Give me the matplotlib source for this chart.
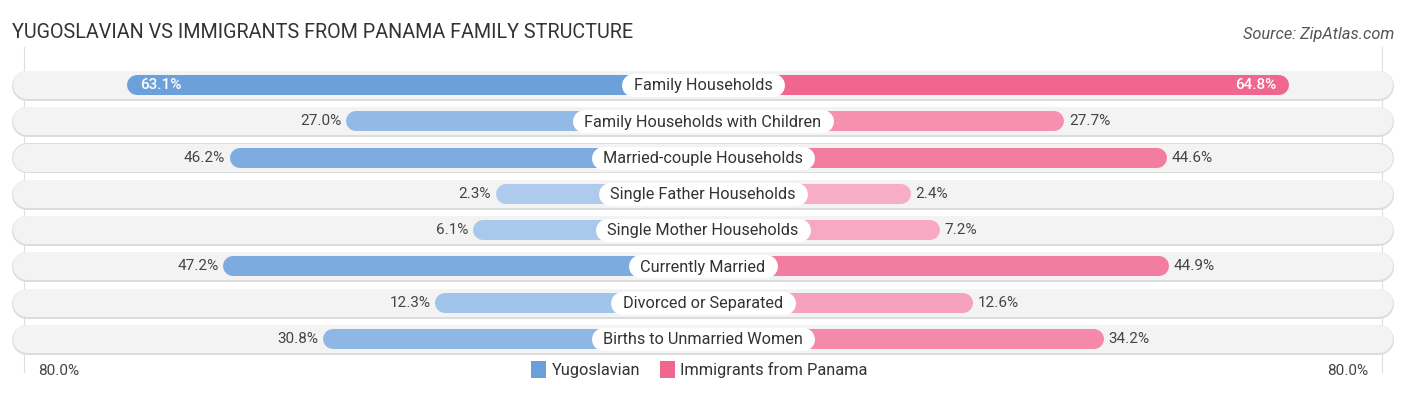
import numpy as np
import matplotlib
matplotlib.use('Agg')
import matplotlib.pyplot as plt
from matplotlib.colors import to_rgb

plt.rcParams['font.family'] = ['Roboto', 'DejaVu Sans']

# data
categories = ['Family Households', 'Family Households with Children', 'Married-couple Households',
              'Single Father Households', 'Single Mother Households', 'Currently Married',
              'Divorced or Separated', 'Births to Unmarried Women']
yugoslavian = [63.1, 27.0, 46.2, 2.3, 6.1, 47.2, 12.3, 30.8]
panama = [64.8, 27.7, 44.6, 2.4, 7.2, 44.9, 12.6, 34.2]
axis_max = 80.0

# layout (pixel based)
W, H = 1406, 395
cx = 703          # centre of the chart in px
ppu = 6.07        # px per percent
base = 31.8       # extra length every bar gets (room for the label)
row0, drow = 85, 36.3

fig = plt.figure(figsize=(W / 100, H / 100), dpi=100)
ax = fig.add_axes([0, 0, 1, 1])
ax.set_xlim(-cx / ppu, (W - cx) / ppu)
ax.set_ylim((H - row0) / drow, -row0 / drow)
ax.axis('off')

pt = 72 / 100  # points per pixel


def px2u(p):
    return p / ppu


def shade(c_light, c_dark, t):
    a, b = np.array(to_rgb(c_light)), np.array(to_rgb(c_dark))
    return tuple(a + (b - a) * t)


vmax = max(max(yugoslavian), max(panama))

# faint gridlines at +-80
for s in (-1, 1):
    ax.plot([s * (base + axis_max)] * 2, [-1.05, 7.9], color='#dedede', lw=0.8, zorder=0)

fig.canvas.draw()
renderer = fig.canvas.get_renderer()

for i, cat in enumerate(categories):
    # background pill
    r_bg = px2u(14.5)
    xl, xr = -(base + axis_max + 2.0), base + axis_max + 2.0
    ax.plot([xl + r_bg, xr - r_bg], [i + 0.02, i + 0.02], color='#dcdcdc', lw=30 * pt,
            solid_capstyle='round', zorder=1)
    ax.plot([xl + r_bg, xr - r_bg], [i, i], color='#f3f3f3', lw=28 * pt,
            solid_capstyle='round', zorder=1)

    r = px2u(10)
    yv, pv = yugoslavian[i], panama[i]
    cy = shade('#b0cdee', '#6a9fdb', yv / vmax)
    cp = shade('#f8b0c8', '#f0668f', pv / vmax)
    ax.plot([-(base + yv) + r, 0], [i, i], color=cy, lw=20 * pt, solid_capstyle='round', zorder=2)
    ax.plot([0, base + pv - r], [i, i], color=cp, lw=20 * pt, solid_capstyle='round', zorder=2)

    # values
    if yv > 55:
        ax.text(-(base + yv) + px2u(13), i, f'{yv:.1f}%', ha='left', va='center',
                fontsize=11, color='white', fontweight='medium', zorder=4)
    else:
        ax.text(-(base + yv) - px2u(5), i, f'{yv:.1f}%', ha='right', va='center',
                fontsize=11, color='#444444', zorder=4)
    if pv > 55:
        ax.text(base + pv - px2u(13), i, f'{pv:.1f}%', ha='right', va='center',
                fontsize=11, color='white', fontweight='medium', zorder=4)
    else:
        ax.text(base + pv + px2u(5), i, f'{pv:.1f}%', ha='left', va='center',
                fontsize=11, color='#444444', zorder=4)

    # category label on a white pill
    t = ax.text(0, i + 0.02, cat, ha='center', va='center', fontsize=11.7, color='#333333', zorder=5)
    bb = t.get_window_extent(renderer)
    hw = px2u(bb.width / 2 + 12 - 11.5)
    ax.plot([-hw, hw], [i, i], color='white', lw=23 * pt, solid_capstyle='round', zorder=4)

# title and source
fig.text(12 / W, 1 - 33 / H, 'YUGOSLAVIAN VS IMMIGRANTS FROM PANAMA FAMILY STRUCTURE',
         ha='left', va='center', fontsize=14.2, color='#333333')
fig.text(1394 / W, 1 - 34 / H, 'Source: ZipAtlas.com', ha='right', va='center',
         fontsize=11.8, color='#555555', style='italic')

# axis end labels
ly = (371 - row0) / drow
ax.text(-(base + axis_max) + px2u(14), ly, f'{axis_max:.1f}%', ha='left', va='center',
        fontsize=11, color='#444444')
ax.text(base + axis_max - px2u(13), ly, f'{axis_max:.1f}%', ha='right', va='center',
        fontsize=11, color='#444444')

# legend
legend_items = [('Yugoslavian', '#6a9fdb'), ('Immigrants from Panama', '#f0668f')]
lx = 531
for name, col in legend_items:
    fig.patches.append(plt.Rectangle((lx / W, 1 - 378 / H), 15 / W, 17 / H, transform=fig.transFigure,
                                     fc=col, ec='none'))
    t = fig.text((lx + 21) / W, 1 - 370 / H, name, ha='left', va='center', fontsize=11.8,
                 color='#333333')
    bb = t.get_window_extent(renderer)
    lx = bb.x1 + 19

fig.savefig('out.png', dpi=100)
